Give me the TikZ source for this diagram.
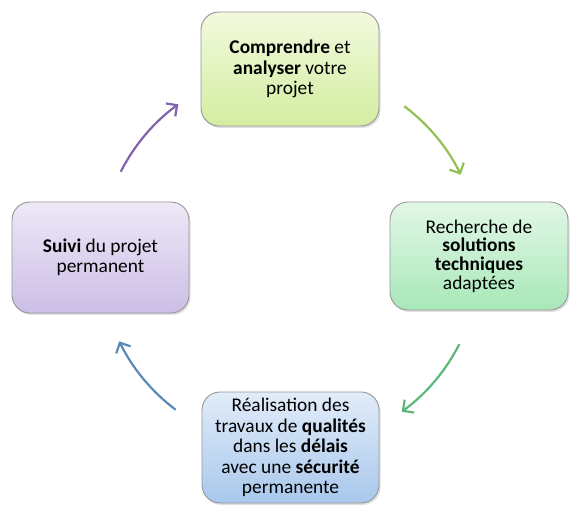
\documentclass[tikz,border=0pt]{standalone}
\usepackage{fontspec}
\setmainfont{Carlito}
\usetikzlibrary{shadows,arrows.meta,calc}
\definecolor{gtop}{RGB}{242,250,222}
\definecolor{gbot}{RGB}{211,237,160}
\definecolor{mtop}{RGB}{226,247,231}
\definecolor{mbot}{RGB}{168,232,184}
\definecolor{btop}{RGB}{226,236,249}
\definecolor{bbot}{RGB}{168,200,236}
\definecolor{ptop}{RGB}{238,232,247}
\definecolor{pbot}{RGB}{204,190,230}
\definecolor{agreen}{RGB}{146,192,82}
\definecolor{amint}{RGB}{92,184,122}
\definecolor{ablue}{RGB}{92,138,182}
\definecolor{apurple}{RGB}{128,100,172}
\begin{document}
\begin{tikzpicture}[x=1pt,y=1pt,
  box/.style={draw={rgb,255:red,150;green,150;blue,150}, line width=0.9pt,
    rounded corners=18pt, align=center, inner sep=0pt,
    font=\fontsize{19.4}{20.5}\selectfont,
    drop shadow={opacity=0.25, shadow xshift=1.5pt, shadow yshift=-2pt}},
  arr/.style={line width=2.2pt, -{Straight Barb[length=8pt,width=16pt]}}]
\useasboundingbox (0,0) rectangle (577,519);
\node[box, minimum width=178pt, minimum height=114pt, top color=gtop, bottom color=gbot] (top) at (290,450)
  {\textbf{Comprendre} et\\\textbf{analyser} votre\\projet};
\node[box, minimum width=178pt, minimum height=108pt, top color=mtop, bottom color=mbot,
  font=\fontsize{19.4}{18.6}\selectfont] (right) at (479,263)
  {Recherche de\\\textbf{solutions}\\\textbf{techniques}\\adaptées};
\node[box, minimum width=177pt, minimum height=111pt, top color=btop, bottom color=bbot] (bottom) at (290.5,71.5)
  {Réalisation des\\travaux de \textbf{qualités}\\dans les \textbf{délais}\\avec une \textbf{sécurité}\\permanente};
\node[box, minimum width=177pt, minimum height=111pt, top color=ptop, bottom color=pbot] (left) at (100.5,261.5)
  {\textbf{Suivi} du projet\\permanent};
\coordinate (c) at (290,261);
\coordinate (a1) at ($(c)+(53:190)$);
\coordinate (a2) at ($(c)+(-27:190)$);
\coordinate (a3) at ($(c)+(233:190)$);
\coordinate (a4) at ($(c)+(153:190)$);
\draw[arr, agreen] (a1) arc[start angle=53, end angle=26, radius=190];
\draw[arr, amint] (a2) arc[start angle=-27, end angle=-54, radius=190];
\draw[arr, ablue] (a3) arc[start angle=233, end angle=206, radius=190];
\draw[arr, apurple] (a4) arc[start angle=153, end angle=126, radius=190];
\end{tikzpicture}
\end{document}
